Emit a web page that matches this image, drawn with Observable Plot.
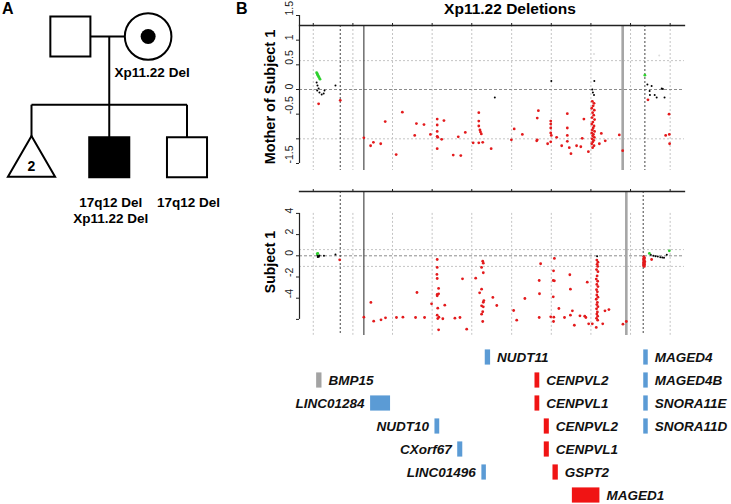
<!DOCTYPE html>
<html><head><meta charset="utf-8">
<script src="https://cdn.jsdelivr.net/npm/d3@7"></script>
<script src="https://cdn.jsdelivr.net/npm/@observablehq/plot@0.6"></script>
<style>
body{margin:0;background:#fff;font-family:"Liberation Sans",Arial,sans-serif;}
#root{position:relative;width:731px;height:504px;overflow:hidden;background:#fff}
.abs{position:absolute}
.lbl{position:absolute;font-weight:bold;white-space:nowrap;color:#000}
.rot{transform:translate(-50%,-50%) rotate(-90deg)}
</style></head><body><div id="root">
<div class="lbl" style="left:2px;top:0px;font-size:16px">A</div>
<div class="lbl" style="left:236px;top:0px;font-size:16px">B</div>
<div class="lbl" style="left:510px;top:0px;font-size:15.5px;transform:translateX(-50%)">Xp11.22 Deletions</div>
<div class="lbl rot" style="left:270px;top:97px;font-size:14.5px">Mother of Subject 1</div>
<div class="lbl rot" style="left:270px;top:262px;font-size:14px">Subject 1</div>
</div>
<script>
// ---------- Panel A: pedigree ----------
const pedId = ["father", "mother", "siblings", "subject1", "brother"];
const pedSex = ["male", "female", "unknown", "male", "male"];
const pedSlot = [1, 3, 0, 2, 4];
const pedGen = [0, 0, 1, 1, 1];
const pedStatus = ["unaffected", "carrier", "unaffected", "affected", "unaffected"];
const pedCount = ["", "", "2", "", ""];
const pedLabel = ["", "Xp11.22 Del", "", "17q12 Del\nXp11.22 Del", "17q12 Del"];

// ---------- Panel B: genomic axis (Mb, chrX) ----------
const xDomain = [50.572, 51.942];
const gridPos = [50.621, 50.762, 50.903, 51.044, 51.185, 51.327, 51.468, 51.609, 51.750, 51.891];
const thresholds = [0.585, -1];

const momDashed = [50.717, 51.801];
const momSolid = [50.801];
const momGray = [51.722];
const subjDashed = [50.717, 51.795];
const subjSolid = [50.801];
const subjGray = [51.735];

const momTicks = [-1.5, -1, -0.5, 0, 0.5, 1, 1.5];
const momTickLabels = [-1.5, -0.5, 0, 0.5, 1, 1.5];
const subjTicks = [-6, -4, -2, 0, 2, 4];
const subjTickLabels = [-4, -2, 0, 2, 4];

// Mother of Subject 1: [position Mb, log2 ratio]
const momLoss = [[50.640,-0.29],[50.717,-0.22],[50.801,-0.98],[50.825,-1.14],[50.835,-1.07],[50.861,-1.10],[50.877,-0.65],[50.916,-1.32],[50.938,-0.46],[50.982,-0.93],[50.988,-0.69],[51.015,-0.71],[51.038,-0.91],[51.062,-0.60],[51.062,-0.72],[51.062,-0.85],[51.062,-0.95],[51.064,-0.97],[51.062,-1.20],[51.078,-1.01],[51.086,-0.63],[51.119,-1.33],[51.137,-0.96],[51.146,-1.34],[51.162,-0.87],[51.190,-1.08],[51.210,-0.47],[51.210,-0.64],[51.210,-0.74],[51.214,-0.82],[51.216,-0.86],[51.219,-0.90],[51.210,-1.08],[51.224,-1.07],[51.254,-1.20],[51.326,-1.02],[51.336,-0.80],[51.365,-0.91],[51.416,-1.04],[51.418,-1.02],[51.418,-0.58],[51.422,-0.43],[51.455,-1.10],[51.466,-1.06],[51.466,-0.64],[51.466,-0.70],[51.466,-0.78],[51.466,-0.88],[51.468,-0.93],[51.487,-0.97],[51.505,-1.14],[51.525,-0.49],[51.525,-0.78],[51.525,-0.93],[51.525,-1.05],[51.532,-1.18],[51.538,-1.30],[51.558,-1.14],[51.573,-1.16],[51.578,-0.99],[51.584,-0.60],[51.600,-1.26],
 [51.614,-0.24],[51.620,-0.28],[51.617,-0.33],[51.612,-0.38],[51.621,-0.42],[51.615,-0.47],[51.619,-0.52],[51.613,-0.57],[51.622,-0.61],[51.616,-0.66],[51.612,-0.70],[51.620,-0.74],[51.617,-0.78],[51.614,-0.82],[51.622,-0.85],[51.612,-0.88],[51.618,-0.91],[51.615,-0.94],[51.621,-0.97],[51.613,-1.00],[51.619,-1.03],[51.616,-1.06],[51.612,-1.10],[51.620,-1.14],[51.615,-1.18],
 [51.639,-1.10],[51.646,-0.89],[51.660,-1.04],[51.710,-0.92],[51.722,-1.24],[51.812,-0.21],[51.887,-0.50],[51.875,-0.93],[51.888,-0.91],[51.889,-1.10]];
const momNormal = [[50.633,0.14],[50.636,0.08],[50.640,0.02],[50.635,-0.02],[50.643,-0.06],[50.651,-0.10],[50.658,-0.08],[50.661,-0.02],[50.700,0.08],[51.267,-0.16],[51.468,0.17],[51.621,0.17],[51.614,0.00],[51.616,-0.06],[51.620,-0.11],[51.810,0.10],[51.825,0.07],[51.818,-0.03],[51.819,-0.11],[51.836,-0.11],[51.843,-0.16],[51.861,0.02],[51.865,0.01],[51.871,-0.16]];
const momGain = [[50.633,0.34],[50.635,0.32],[50.636,0.30],[50.638,0.28],[50.640,0.26],[50.642,0.24],[50.645,0.21],[51.801,0.29]];
const momFaint = [[51.620,0.72],[51.852,0.69]];

// Subject 1
const subjLoss = [[50.715,-0.38],[50.801,-5.79],[50.826,-4.40],[50.836,-6.17],[50.862,-6.04],[50.878,-5.85],[50.917,-5.82],[50.940,-5.79],[50.985,-5.82],[50.990,-3.46],[51.017,-5.82],[51.042,-4.53],[51.062,-0.35],[51.062,-1.10],[51.061,-1.76],[51.062,-2.14],[51.067,-3.08],[51.062,-3.65],[51.067,-3.59],[51.062,-3.77],[51.064,-4.94],[51.062,-5.60],[51.068,-5.79],[51.064,-5.92],[51.067,-6.98],[51.082,-5.94],[51.089,-4.66],[51.125,-5.88],[51.143,-5.82],[51.152,-2.17],[51.167,-6.92],[51.199,-2.11],[51.213,-3.49],[51.224,-0.51],[51.226,-0.70],[51.220,-1.10],[51.226,-1.60],[51.220,-3.15],[51.228,-4.22],[51.226,-4.38],[51.220,-4.72],[51.226,-4.81],[51.224,-5.28],[51.220,-5.51],[51.224,-6.20],[51.260,-3.93],[51.274,-4.69],[51.334,-5.16],[51.345,-6.07],[51.374,-4.03],[51.425,-2.33],[51.430,-0.75],[51.426,-3.58],[51.425,-5.82],[51.466,-5.76],[51.479,-0.25],[51.476,-1.42],[51.475,-2.33],[51.479,-2.36],[51.475,-3.87],[51.477,-5.79],[51.476,-6.20],[51.495,-4.97],[51.515,-5.82],[51.534,-1.79],[51.536,-3.15],[51.536,-5.60],[51.543,-5.19],[51.550,-6.55],[51.570,-5.66],[51.587,-5.70],[51.591,-5.82],[51.596,-2.49],[51.601,-6.42],[51.614,-6.42],
 [51.630,-0.40],[51.634,-0.60],[51.631,-0.80],[51.633,-1.00],[51.629,-1.30],[51.634,-1.50],[51.631,-1.90],[51.628,-2.20],[51.633,-2.40],[51.630,-2.70],[51.634,-2.90],[51.629,-3.20],[51.632,-3.40],[51.630,-3.70],[51.634,-3.90],[51.628,-4.10],[51.632,-4.40],[51.630,-4.60],[51.634,-4.80],[51.629,-5.00],[51.632,-5.30],[51.630,-5.50],[51.633,-5.70],[51.629,-5.90],
 [51.633,-6.07],[51.628,-6.76],[51.651,-6.42],[51.659,-5.19],[51.673,-5.07],[51.723,-6.45],[51.735,-6.20],
 [51.797,-0.10],[51.800,-0.20],[51.796,-0.30],[51.799,-0.40],[51.797,-0.50],[51.801,-0.55],[51.796,-0.65],[51.799,-0.70],[51.797,-0.80],[51.800,-0.85],[51.796,-0.95],[51.799,-1.00],[51.825,-0.35]];
const subjNormal = [[50.636,0.05],[50.639,-0.04],[50.641,-0.10],[50.637,-0.12],[50.643,0.02],[50.659,0.00],[50.700,0.12],[51.631,-0.04],[51.797,-0.07],[51.822,0.09],[51.831,0.00],[51.839,-0.04],[51.847,-0.07],[51.856,-0.13],[51.863,-0.16],[51.869,-0.19],[51.879,0.09]];
const subjGain = [[50.635,0.19],[50.637,0.22],[51.817,0.22],[51.888,0.47]];

// Gene track
const geneName = ["NUDT11","MAGED4","BMP15","CENPVL2","MAGED4B","LINC01284","CENPVL1","SNORA11E","NUDT10","CENPVL2","SNORA11D","CXorf67","CENPVL1","LINC01496","GSPT2","MAGED1"];
const geneStart = [51.233,51.797,50.633,51.410,51.797,50.825,51.410,51.797,51.054,51.443,51.797,51.135,51.443,51.221,51.474,51.543];
const geneEnd   = [51.252,51.813,50.652,51.427,51.813,50.896,51.427,51.813,51.071,51.461,51.813,51.153,51.461,51.237,51.493,51.641];
const geneRow   = [0,0,1,1,1,2,2,2,3,3,3,4,4,5,5,6];
const geneClass = ["flanking","flanking","other","deleted","flanking","flanking","deleted","flanking","flanking","deleted","flanking","flanking","deleted","flanking","deleted","deleted"];
const labelsLeft = ["LINC01284","NUDT10","CXorf67","LINC01496"];

// ---------- build ----------
const FONT = "Liberation Sans, Arial, sans-serif";
const root = document.getElementById("root");
function place(el, left, top) {
  const d = document.createElement("div");
  d.className = "abs"; d.style.left = left + "px"; d.style.top = top + "px";
  d.appendChild(el); root.appendChild(d);
}

// Pedigree
const ped = pedId.map((id, i) => ({id, sex: pedSex[i], slot: pedSlot[i], gen: pedGen[i], status: pedStatus[i], count: pedCount[i], label: pedLabel[i]}));
const sibLevel = 0.565;
const kids = ped.filter(d => d.gen === 1);
const couple = ped.filter(d => d.gen === 0);
const midSlot = d3.mean(couple, d => d.slot);
const links = [
  {x1: couple[0].slot, y1: 0, x2: couple[1].slot, y2: 0},
  {x1: midSlot, y1: 0, x2: midSlot, y2: sibLevel},
  {x1: d3.min(kids, d => d.slot), y1: sibLevel, x2: d3.max(kids, d => d.slot), y2: sibLevel},
  ...kids.map(k => ({x1: k.slot, y1: sibLevel, x2: k.slot, y2: 1}))
];
const fillOf = d => d.status === "affected" ? "#000" : "#fff";
const pedPlot = Plot.plot({
  width: 230, height: 232, margin: 0,
  style: {background: "transparent", fontFamily: FONT, overflow: "visible"},
  x: {domain: [0, 4], range: [31, 186.5], axis: null},
  y: {domain: [0, 1], range: [36, 156.7], axis: null},
  marks: [
    Plot.link(links, {x1: "x1", y1: "y1", x2: "x2", y2: "y2", stroke: "#000", strokeWidth: 2}),
    Plot.dot(ped.filter(d => d.sex === "male"), {x: "slot", y: "gen", symbol: "square", r: 22.6, fill: fillOf, stroke: "#000", strokeWidth: 2}),
    Plot.dot(ped.filter(d => d.sex === "female"), {x: "slot", y: "gen", symbol: "circle", r: 23.3, fill: fillOf, stroke: "#000", strokeWidth: 2}),
    Plot.dot(ped.filter(d => d.sex === "unknown"), {x: "slot", y: "gen", symbol: "triangle", r: 17.5, dy: 6, fill: fillOf, stroke: "#000", strokeWidth: 2}),
    Plot.dot(ped.filter(d => d.status === "carrier"), {x: "slot", y: "gen", r: 7.5, fill: "#000"}),
    Plot.text(ped.filter(d => d.count), {x: "slot", y: "gen", text: "count", dy: 9, fontSize: 14, fontWeight: "bold", fill: "#000"}),
    Plot.text(ped.filter(d => d.label && d.gen === 0), {x: "slot", y: "gen", text: "label", dx: 4, dy: 31, lineAnchor: "top", fontSize: 13.5, fontWeight: "bold", fill: "#000"}),
    Plot.text(ped.filter(d => d.label && d.gen === 1), {x: "slot", y: "gen", text: "label", dx: 1.5, dy: 37.5, lineAnchor: "top", lineHeight: 1.24, fontSize: 13.5, fontWeight: "bold", fill: "#000"})
  ]
});
place(pedPlot, 0, 0);

// Scatter panels
const pts = arr => arr.map(([pos, ratio]) => ({pos, ratio}));
function scatter(o) {
  return Plot.plot({
    width: 501, height: o.height, marginLeft: 69, marginRight: 47, marginTop: o.marginTop, marginBottom: 5,
    style: {background: "transparent", fontFamily: FONT, overflow: "visible"},
    x: {domain: xDomain, range: [69, 454], axis: null},
    y: {domain: o.yDomain, range: o.yRange, axis: null},
    marks: [
      Plot.ruleX(gridPos, o.gridSpan ? {y1: o.gridSpan[0], y2: o.gridSpan[1], stroke: "#c4c4c4", strokeDasharray: "2,2"} : {stroke: "#c4c4c4", strokeDasharray: "2,2"}),
      Plot.ruleY(thresholds, {stroke: "#c4c4c4", strokeDasharray: "2,2"}),
      Plot.ruleY([0], {stroke: "#8c8c8c", strokeDasharray: "3,2"}),
      Plot.ruleX(o.dashed, {stroke: "#444", strokeDasharray: "2,2"}),
      Plot.ruleX(o.solid, {stroke: "#4a4a4a", strokeWidth: 1.2}),
      Plot.ruleX(o.gray, {stroke: "#a6a6a6", strokeWidth: 2.6}),
      Plot.frame({anchor: "top", stroke: "#222", strokeWidth: 1.3}),
      Plot.axisX({anchor: "top", ticks: gridPos, tickSize: 3, tickFormat: () => "", label: null, stroke: "#222"}),
      Plot.ruleX([xDomain[0]], {y1: d3.min(o.ticks), y2: d3.max(o.ticks), stroke: "#222", strokeWidth: 1.2}),
      Plot.axisY({ticks: o.ticks, tickSize: 3, tickFormat: () => "", label: null, stroke: "#222"}),
      Plot.text(o.labels, {frameAnchor: "left", y: d => d, text: d => String(d), rotate: -90, dx: -10, fontSize: 10.5, fill: "#222"}),
      Plot.dot(pts(o.faint || []), {x: "pos", y: "ratio", r: 1, fill: "#dddddd"}),
      Plot.dot(pts(o.normal), {x: "pos", y: "ratio", r: 1, fill: "#000"}),
      Plot.dot(pts(o.gain), {x: "pos", y: "ratio", r: 1.4, fill: "#2fd12f"}),
      Plot.dot(pts(o.loss), {x: "pos", y: "ratio", r: 1.4, fill: "#e31a1c"})
    ]
  });
}
place(scatter({height: 175, marginTop: 25, yDomain: [-1.5, 1.5], yRange: [163, 15], ticks: momTicks, labels: momTickLabels,
  loss: momLoss, normal: momNormal, gain: momGain, faint: momFaint, dashed: momDashed, solid: momSolid, gray: momGray}), 230, 0);
place(scatter({height: 165, marginTop: 16, yDomain: [-6, 4], yRange: [143.9, 37.9], ticks: subjTicks, labels: subjTickLabels, gridSpan: [4, -7.5],
  loss: subjLoss, normal: subjNormal, gain: subjGain, dashed: subjDashed, solid: subjSolid, gray: subjGray}), 230, 175);

// Gene track
const genes = geneName.map((name, i) => ({name, start: geneStart[i], end: geneEnd[i], row: geneRow[i], cls: geneClass[i]}));
const genePlot = Plot.plot({
  width: 501, height: 164, marginLeft: 69, marginRight: 47, marginTop: 0, marginBottom: 0,
  style: {background: "transparent", fontFamily: FONT, overflow: "visible"},
  x: {domain: xDomain, range: [69, 454], axis: null},
  y: {domain: [0, 6], range: [17, 155], axis: null},
  color: {domain: ["other", "flanking", "deleted"], range: ["#a3a3a3", "#5b9bd5", "#f01414"]},
  marks: [
    Plot.rect(genes, {x1: "start", x2: "end", y1: d => d.row - 0.33, y2: d => d.row + 0.33, fill: "cls"}),
    Plot.text(genes.filter(d => !labelsLeft.includes(d.name)), {x: "end", y: "row", text: "name", textAnchor: "start", dx: 6.5, fontSize: 13.5, fontWeight: "bold", fontStyle: "italic", fill: "#111"}),
    Plot.text(genes.filter(d => labelsLeft.includes(d.name)), {x: "start", y: "row", text: "name", textAnchor: "end", dx: -6, fontSize: 13.5, fontWeight: "bold", fontStyle: "italic", fill: "#111"})
  ]
});
place(genePlot, 230, 340);
</script>
</body></html>
